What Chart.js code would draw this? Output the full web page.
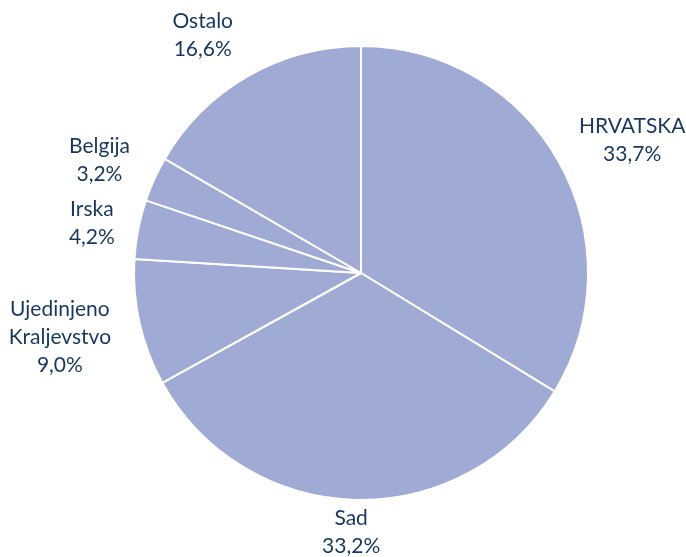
<!DOCTYPE html>
<html>
<head>
<meta charset="utf-8">
<script src="https://cdn.jsdelivr.net/npm/chart.js@4/dist/chart.umd.min.js"></script>
<style>
  html, body { margin: 0; padding: 0; background: #ffffff; }
  #wrap { width: 686px; height: 557px; }
</style>
</head>
<body>
<div id="wrap"><canvas id="myChart" width="686" height="557"></canvas></div>
<script>
// data, clockwise from the top
var countries = [['HRVATSKA'], ['Sad'], ['Ujedinjeno', 'Kraljevstvo'], ['Irska'], ['Belgija'], ['Ostalo']];
var shares = [33.7, 33.2, 9.0, 4.2, 3.2, 16.6];

// small per-label nudges so the text sits where excel put it
var nudge = [[18, -3], [-4, -6], [-20, 3], [-14, 1], [-18, -3], [-25, -8]];

var sliceColor = '#9fabd5';
var textColor = '#17375e';
var lineH = 28;

var outsideLabels = {
  id: 'outsideLabels',
  afterDatasetsDraw: function(chart) {
    var ctx = chart.ctx;
    var meta = chart.getDatasetMeta(0);
    ctx.save();
    ctx.font = '21px Lato, "Open Sans", sans-serif';
    ctx.fillStyle = textColor;
    ctx.textAlign = 'center';
    ctx.textBaseline = 'middle';
    meta.data.forEach(function(arc, i) {
      var p = arc.getProps(['x', 'y', 'startAngle', 'endAngle', 'outerRadius'], true);
      var mid = (p.startAngle + p.endAngle) / 2;
      var c = Math.cos(mid), s = Math.sin(mid);
      var lines = countries[i].concat([shares[i].toFixed(1).replace('.', ',') + '%']);
      var w = 0;
      lines.forEach(function(t) { w = Math.max(w, ctx.measureText(t).width); });
      var h = lines.length * lineH;
      var r = p.outerRadius + 10;
      var cx = p.x + c * r + c * w / 2 + nudge[i][0];
      var cy = p.y + s * r + s * h / 2 + nudge[i][1];
      lines.forEach(function(t, k) {
        ctx.fillText(t, cx, cy - h / 2 + lineH / 2 + k * lineH);
      });
    });
    ctx.restore();
  }
};

var ctx = document.getElementById('myChart').getContext('2d');
var chart = new Chart(ctx, {
  type: 'pie',
  data: {
    labels: countries.map(function(l) { return l.join(' '); }),
    datasets: [{
      data: shares,
      backgroundColor: sliceColor,
      borderColor: '#ffffff',
      borderWidth: 2
    }]
  },
  plugins: [outsideLabels],
  options: {
    responsive: false,
    animation: false,
    layout: { padding: { left: 133, right: 97, top: 45, bottom: 56 } },
    plugins: {
      legend: { display: false },
      tooltip: { enabled: false }
    }
  }
});
</script>
</body>
</html>
